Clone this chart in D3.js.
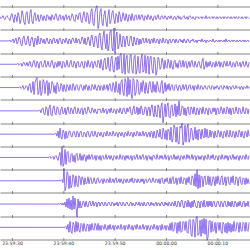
<!DOCTYPE html>
<html>
<head>
<meta charset="utf-8">
<script src="https://cdn.jsdelivr.net/npm/d3@7"></script>
<style>
html,body{margin:0;padding:0;background:#fff;}
svg{display:block;}
</style>
</head>
<body>
<svg id="chart" width="250" height="250"></svg>
<script>
// ---- data ----
const startTime = "2024-01-01T23:59:27.662Z"; // first sample time
const sampleInterval = 0.19482;                // seconds between samples
const endTime = "2024-01-02T00:00:16.36Z";
const tickTimes = ["2024-01-01T23:59:30Z","2024-01-01T23:59:40Z","2024-01-01T23:59:50Z","2024-01-02T00:00:00Z","2024-01-02T00:00:10Z"];

const trace1 = [
1,-1,0,2,-1,-2,1,2,0,-1, -3,2,4,-1,-5,3,1,-4,5,2, -6,-2,7,3,-5,-7,4,6,-3,-6, 5,8,-4,-6,2,5,-3,-1,3,-4,
-2,3,1,-3,2,-1,-3,3,2,-2, 1,-3,3,0,-2,2,4,-1,-3,1, 3,-2,-1,2,-3,1,3,-2,0,2, -3,-1,4,2,-3,-4,3,1,-2,4,
5,-3,-5,2,6,-1,-4,5,3,-6, -4,7,9,-6,-8,5,10,12,-11,-7, 6,9,-5,-8,3,7,-4,-9,2,8, -6,-3,5,7,-2,-6,4,2,-5,6,
3,-4,-2,5,1,-3,4,-1,-4,3, 2,-3,4,-1,-3,2,3,-2,-1,3, -2,1,3,-1,-3,2,1,-2,3,0, -2,2,-1,-3,1,2,-2,0,3,-1,
-2,1,2,-1,-1,2,0,-2,1,1, -1,2,-1,-2,1,1,-2,0,2,-1, 1,-2,0,1,2,-1,-1,1,-2,1, 2,0,-1,1,-1,-2,1,0,1,-1,
0,1,-1,1,0,-1,2,-1,0,1, -1,0,1,-1,1,0,-1,1,-1,0, 1,-1,0,1,-1,1,0,-1,1,0, -1,1,-1,0,1,-1,1,0,-1,1,
0,-1,1,-1,0,1,-1,1,0,-1];
const trace2 = [
0,0,0,0,0,0,0,0,0,0, 1,-1,0,2,-2,1,3,-3,-1,4, 2,-4,-5,3,5,-2,-4,1,5,-3, -5,2,4,-1,-6,3,2,-4,5,-2,
-3,3,1,-2,2,-3,0,3,-1,-3, 2,1,-3,2,3,-2,-1,2,-3,1, 3,-1,-3,2,1,-2,3,0,-3,2, 1,-3,2,3,-1,-2,3,-2,1,2,
-3,-1,4,2,-3,3,-4,-2,4,1, -5,3,6,-2,-6,4,5,-3,-7,6, 8,-5,-9,4,10,-2,-8,7,-10,-4, 9,11,-7,-10,13,-12,5,9,-8,-5,
7,-3,-6,5,4,-6,2,5,-4,-5, 3,5,-2,-5,4,-1,-4,3,2,-4, 2,-3,1,3,-2,-1,3,-2,0,2, -3,1,2,-2,3,-1,-2,2,1,-3,
2,0,-2,3,-1,-2,2,1,-3,1, 2,-2,-1,2,1,-2,2,-1,-2,1, 2,-1,1,-2,2,0,-2,1,2,-1, -2,1,0,2,-1,-1,1,-2,1,0,
1,-1,2,-1,0,1,-2,1,0,-1, 1,0,-1,2,-1,-1,1,0,-1,1, -1,1,0,-1,1,-1,2,-1,0,1, -1,0,1,-1,1,0,-1,1,-1,0,
1,-1,0,1,-1,1,-1,0,1,-1];
const trace3 = [
0,0,0,0,0,0,0,0,0,0, 0,0,0,0,0,0,0,0,1,-1, 0,1,-2,1,2,-1,-1,2,-2,1, 3,-2,-3,2,4,-1,-3,3,1,-4,
2,3,-2,-3,1,4,-3,-1,3,-2, -3,2,4,-1,-4,2,1,-3,3,-2, 3,-1,-4,3,2,-3,-1,4,-2,-3, 2,4,-2,-3,3,1,-4,2,3,-2,
-3,1,3,-2,-4,3,2,-3,4,-1, -3,2,3,-4,1,3,-2,-3,4,2, -4,5,-2,-6,4,6,-5,-3,7,-4, -7,6,8,-5,-8,3,7,-6,8,-5,
9,11,-9,-7,10,-10,6,9,-8,-9, 8,10,-6,-9,7,9,-10,-5,8,-7, -9,6,10,-8,-6,9,-9,5,8,-10, 6,8,-5,-9,7,4,-11,-6,7,5,
-5,-3,6,2,-5,4,-3,-4,5,1, -4,4,-2,-5,3,4,-3,1,-4,3, 4,-3,-2,4,-3,2,3,-4,-1,3, -3,2,4,-2,-3,3,-1,-3,2,3,
-2,-4,3,6,-5,-2,3,-3,2,-2, 3,-1,-3,2,1,-3,3,-2,0,3, -3,2,-1,-3,3,1,-2,3,-2,-1, 3,-2,-3,2,1,-3,2,3,-2,-1,
2,-3,1,3,-2,-2,3,-1,-3,2];
const trace4 = [
0,0,0,0,0,0,0,0,0,0, 0,0,0,0,0,0,0,0,0,0, 1,-1,0,2,-2,-1,2,1,-3,2, 4,-5,-3,6,-7,5,8,10,-7,-4,
7,-8,-5,8,6,-6,4,7,-8,5, -6,-3,6,4,-5,2,-6,5,3,-4, -3,4,2,-4,3,-2,-4,3,1,-3, 3,-2,-3,4,1,-3,2,3,-2,-3,
2,3,-1,-3,2,-2,3,1,-3,2, -2,-3,3,1,-2,3,-1,-3,2,2, -3,2,1,-3,3,-2,-1,3,-3,2, 4,-3,-4,5,2,-5,6,-3,-5,4,
-7,6,8,-5,-8,9,6,-9,10,-7, 8,-6,-11,9,7,-8,-5,8,6,-7, -6,5,-4,7,2,-6,5,-3,-6,4, 6,-2,-5,6,-4,3,-5,6,2,-4,
-5,4,7,-6,-3,5,-4,3,-2,4, -3,1,3,-2,-3,2,3,-1,-3,2, 2,-3,-1,3,-2,1,3,-3,-2,2, 3,-2,-1,2,-3,2,1,-2,3,-1,
-2,2,1,-2,0,2,-1,-2,1,2, -1,-2,2,1,-2,1,-1,2,0,-2, 1,2,-1,-2,2,0,-1,2,-2,1, 1,-2,1,2,-1,-1,2,-1,0,1,
-2,1,1,-2,1,0,-1,2,-1,1];
const trace5 = [
0,0,0,0,0,0,0,0,0,0, 0,0,0,0,0,0,0,0,0,0, 0,0,0,0,0,0,0,0,0,0, 0,0,0,0,0,0,0,0,0,0,
1,-2,2,3,-3,-4,4,2,-5,3, 6,-4,-5,3,5,-2,-4,4,3,-3, -4,2,4,-3,-2,3,-4,1,4,-2, -3,3,1,-3,2,4,-2,-3,3,-1,
-3,2,3,-4,1,3,-3,-2,4,1, -2,-2,3,1,-2,2,-1,-3,2,1, 2,-2,-1,3,-2,1,2,-3,0,2, -2,3,-1,-2,2,1,-3,2,1,-2,
3,-1,-3,2,3,-2,-3,3,-1,2, 4,-3,-4,2,5,-3,-2,4,-4,3, -3,5,2,-4,-3,4,3,-5,2,4, -5,3,6,-2,-6,5,-4,-6,6,3,
-7,5,8,-12,-4,7,-6,5,8,-6, -7,4,6,-5,-3,7,-6,5,-4,10, -5,-3,5,4,-4,3,-5,2,4,-3, -4,4,2,-3,4,-2,-4,3,1,-4,
3,2,-3,4,-2,-3,3,1,-4,3, 2,-3,-2,3,-1,3,-4,2,3,-3, -2,4,1,-3,3,-2,-3,4,2,-3, 3,-4,2,3,-3,-2,4,-1,-3,3,
2,-3,-2,4,-1,-3,3,2,-3,2];
const trace6 = [
0,0,0,0,0,0,0,0,0,0, 0,0,0,0,0,0,0,0,0,0, 0,0,0,0,0,0,0,0,0,0, 0,0,0,0,0,0,0,0,0,0,
0,0,0,0,0,0,0,0,0,0, 0,0,0,0,0,0,1,-2,3,-4, 6,-3,-5,4,2,-5,3,-4,-2,3, 3,-2,-3,2,3,-1,-3,3,1,-3,
2,3,-2,-3,2,1,-3,2,3,-2, -3,1,3,-2,-2,3,-1,-3,2,1, -2,2,-1,-3,2,1,-2,3,-1,-2, 2,-1,-2,3,0,-2,2,1,-3,2,
1,-2,2,-1,-3,2,1,-2,3,-1, -2,2,1,-3,2,-1,-2,3,1,-2, 2,-2,-1,3,-2,1,2,-3,0,2, -3,3,2,-4,3,-2,-4,4,1,-3,
5,-4,-5,6,2,-5,4,-6,5,3, -6,7,-8,-5,9,6,-8,7,-9,-10, 8,6,11,-11,-7,9,-8,6,10,-8, -5,6,4,-6,-3,7,-5,4,-6,5,
3,-5,5,-2,-4,6,-3,5,-4,-3, 4,-3,3,2,-4,3,-2,-3,4,1, -3,3,-2,-4,3,2,-3,4,-1,-3, 4,-2,-3,3,1,-4,3,-2,-3,4,
2,-3,3,-2,-4,3,2,-3,4,-2];
const trace7 = [
0,0,0,0,0,0,0,0,0,0, 0,0,0,0,0,0,0,0,0,0, 0,0,0,0,0,0,0,0,0,0, 0,0,0,0,0,0,0,0,0,0,
0,0,0,0,0,0,0,0,0,0, 1,-1,0,1,-2,1,2,-1,-3,2, 5,-8,11,-9,-6,8,-7,5,6,-4, -5,3,4,-4,2,-5,3,4,-3,-2,
4,-3,2,-3,3,1,-4,2,-2,3, -2,1,3,-2,-1,2,-3,2,1,-2, 2,-3,1,2,-2,-1,3,-2,0,2, -2,2,-1,-3,2,1,-2,2,-1,-2,
3,-1,-2,2,1,-3,2,-1,2,-2, -1,2,-3,1,2,-2,0,3,-2,-1, 2,-2,1,3,-2,-1,2,-3,1,2, -2,1,-3,2,2,-1,-2,3,-1,-2,
2,-1,2,-2,-1,3,-2,1,2,-3, 1,2,-2,-1,3,-2,1,-2,2,-1, -3,2,1,-2,2,-1,-2,3,-1,2, -2,-1,3,-2,1,2,-3,1,2,-2,
1,-2,2,1,-3,2,-1,-2,3,-1, -2,2,-1,3,-2,-2,2,1,-3,2, 1,-2,3,-1,-2,2,-1,2,-3,1, 2,-2,-1,3,-2,1,-2,2,1,-3,
2,-1,-2,2,1,-2,3,-1,-2,2];
const trace8 = [
0,0,0,0,0,0,0,0,0,0, 0,0,0,0,0,0,0,0,0,0, 0,0,0,0,0,0,0,0,0,0, 0,0,0,0,0,0,0,0,0,0,
0,0,0,0,0,0,0,0,0,0, 0,0,0,0,0,0,0,0,0,0, 0,0,1,-2,12,-10,-6,9,7,-8, 5,-7,-4,6,3,-6,5,-4,-6,5,
3,-4,4,2,-4,3,-3,-2,4,-3, 2,3,-3,-2,3,-1,-3,2,3,-2, -2,1,2,-3,2,-1,-2,2,1,-2, 3,-2,-1,2,-2,1,3,-2,-1,2,
-2,2,-1,-3,2,1,-2,2,-1,-2, 2,-1,3,-2,-2,2,1,-2,2,-1, -2,2,-1,2,-3,1,2,-2,-1,2, 2,-2,-1,3,-1,-2,2,1,-2,2,
-3,2,3,-2,-3,2,-1,3,-2,-3, 3,-3,2,4,-3,-2,3,-4,2,3, -3,4,-2,-3,3,2,-4,3,-2,4, -3,-4,5,3,-5,7,-6,11,-8,6,
-7,5,4,-6,3,5,-4,-3,5,-4, 4,-5,-3,4,2,-5,4,-3,5,-2, -4,3,5,-4,-2,4,-5,3,4,-3, -4,4,-2,5,-3,-4,4,2,-5,3,
4,-3,-4,3,2,-4,3,-3,2,-3];
const trace9 = [
0,0,0,0,0,0,0,0,0,0, 0,0,0,0,0,0,0,0,0,0, 0,0,0,0,0,0,0,0,0,0, 0,0,0,0,0,0,0,0,0,0,
0,0,0,0,0,0,0,0,0,0, 0,0,0,0,0,0,0,0,0,0, 0,1,-1,1,-1,2,-3,5,-4,6, -5,4,-6,8,-5,6,-4,-13,5,-4,
3,-4,-2,3,2,-3,3,-2,-3,2, 3,-2,-1,3,-2,1,2,-3,1,2, -2,1,2,-1,-2,2,0,-2,1,2, -1,-2,2,1,-2,1,-1,2,-2,1,
2,-1,-2,2,0,-2,1,2,-1,-2, 1,2,-2,1,-1,-2,2,0,-1,2, -2,1,1,-2,2,-1,-2,1,2,-1, -2,2,-1,1,-2,0,2,-2,1,1,
-2,1,2,-1,-2,2,-1,1,-2,2, 0,-2,2,1,-2,3,-2,-3,3,2, -3,3,4,-2,-4,3,2,-3,4,-3, 2,-4,3,-3,4,1,-3,-4,3,2,
-4,3,2,-3,4,-3,-2,3,-3,3, -2,3,-3,2,3,-2,-3,2,3,-1, -3,3,1,-3,2,3,-2,-3,3,-2, 2,-3,3,-2,-3,3,1,-3,2,-2,
3,-2,-3,2,3,-3,1,-2,3,-3];
const trace10 = [
0,0,0,0,0,0,0,0,0,0, 0,0,0,0,0,0,0,0,0,0, 0,0,0,0,0,0,0,0,0,0, 0,0,0,0,0,0,0,0,0,0,
0,0,0,0,0,0,0,0,0,0, 0,0,0,0,0,0,0,0,0,0, 0,0,0,0,0,0,1,-2,3,-5, 6,-4,-6,5,3,-5,6,-4,5,-3,
-5,4,3,-4,4,-2,-4,3,3,-4, 3,-3,4,-2,-3,4,2,-3,4,-3, 2,-3,2,1,-2,3,-1,-3,2,-2, 3,-2,-1,2,-3,2,1,-2,2,-1,
-2,3,-2,-1,2,-3,2,1,-2,3, -1,-2,2,-3,1,2,-2,3,-1,-2, 2,-2,-1,3,-2,1,2,-3,2,-1, -3,2,1,-2,3,-1,-2,2,-3,1,
2,-3,3,-2,-1,2,-3,2,1,-3, 4,-3,5,-4,-3,5,4,-6,5,-4, 6,-5,-4,6,5,-3,6,-5,-6,7, 8,-7,-9,8,6,-10,9,11,-8,-6,
7,-9,8,-6,9,-7,8,-13,-10,6, 7,-5,6,-4,-3,5,-6,4,5,-3, 5,-4,-6,5,3,-5,4,-6,5,-4, 4,-5,3,-4,6,-4,-3,5,4,-5,
5,-3,-4,5,4,-4,5,-3,-4,5];

const traces = [trace1,trace2,trace3,trace4,trace5,trace6,trace7,trace8,trace9,trace10];

// ---- layout ----
const W = 250, H = 250;
const plotTop = 6, plotBottom = 239;
const svg = d3.select("#chart");

const x = d3.scaleUtc().domain([new Date(startTime), new Date(endTime)]).range([0, W]);
const panel = d3.scaleLinear().domain([0, traces.length]).range([plotTop, plotBottom]);
const panelH = panel(1) - panel(0);
const amp = d3.scaleLinear().domain([-12, 12]).range([12, -12]);
const t0 = new Date(startTime).getTime();
const ticks = tickTimes.map(d => new Date(d));

// separator lines with ticks
for (let k = 0; k <= traces.length; k++) {
  const yy = Math.round(panel(k)) + 0.5;
  const axis = d3.axisBottom(x).tickValues(ticks).tickSizeInner(3).tickSizeOuter(0)
    .tickFormat(k === traces.length ? d3.utcFormat("%H:%M:%S") : "");
  const g = svg.append("g").attr("transform", `translate(0,${yy})`).call(axis);
  g.select(".domain").attr("stroke", "#858585").attr("stroke-width", 1);
  g.selectAll(".tick line").attr("stroke", "#858585").attr("y1", -1.5).attr("y2", 1.5);
  g.selectAll(".tick text").attr("fill", "#333").attr("font-size", "4.6px")
    .attr("font-family", "DejaVu Sans, sans-serif").attr("y", 2).attr("dy", "0.71em");
}

// traces
const line = d3.line()
  .x((d, i) => x(new Date(t0 + i * sampleInterval * 1000)))
  .y(d => amp(d));

traces.forEach((tr, k) => {
  const base = panel(k) + panelH / 2;
  svg.append("path")
    .datum(tr)
    .attr("transform", `translate(0,${base})`)
    .attr("d", line)
    .attr("fill", "none")
    .attr("stroke", "#6236f0")
    .attr("stroke-width", 0.7)
    .attr("stroke-linejoin", "round");
});
</script>
</body>
</html>
